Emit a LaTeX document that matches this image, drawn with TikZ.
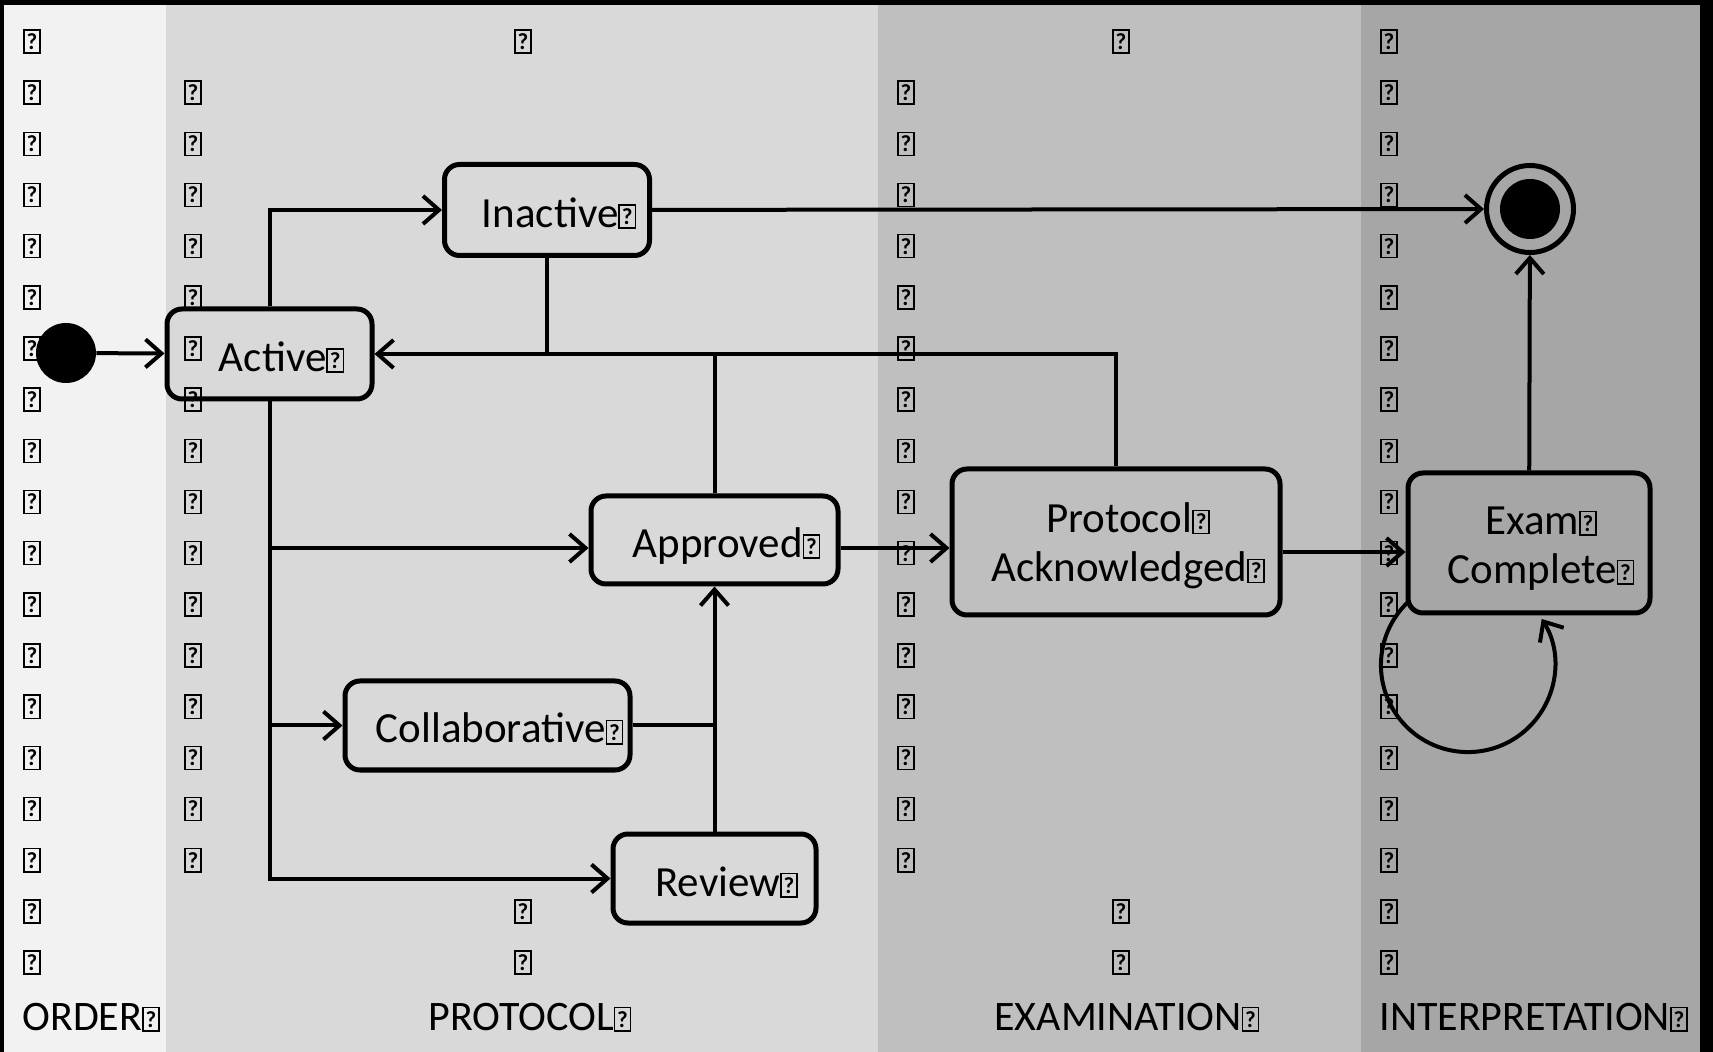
\documentclass[tikz,border=0pt]{standalone}
\usepackage{fontspec}
\setmainfont{Carlito}
\usetikzlibrary{arrows.meta}
\definecolor{ordergrey}{HTML}{F2F2F2}
\definecolor{protocolgrey}{HTML}{D9D9D9}
\definecolor{examgrey}{HTML}{BFBFBF}
\definecolor{interpgrey}{HTML}{A6A6A6}
\newcommand\qbox{{\setlength\fboxsep{0pt}\setlength\fboxrule{0.75pt}%
  \fbox{\vbox to 10.8pt{\vss\hbox to 7.3pt{\hss\fontsize{11.5}{11.5}\selectfont\bfseries ?\hss}\vss}}}}
\newcommand\pad{\hspace*{12pt}\rule{0pt}{19pt}}
\tikzstyle{state2-node}=[draw,rounded corners=7.5pt,line width=2.5pt,inner sep=0pt,align=center,font=\fontsize{21.5}{24.5}\selectfont]
\tikzstyle{state-node}=[state2-node,text height=20pt,text depth=2.5pt]
\tikzstyle{start-node}=[fill=black,circle,inner sep=0pt,minimum size=30pt]
\tikzstyle{end-node}=[draw,circle,line width=2.5pt,inner sep=0pt,minimum size=43.5pt]
\tikzstyle{end-dot}=[fill=black,circle,inner sep=0pt,minimum size=30pt]
\tikzstyle{qmark-node}=[inner sep=0pt]
\tikzstyle{lane-label}=[anchor=base west,inner sep=0pt,font=\fontsize{21}{21}\selectfont]
\tikzstyle{trans}=[line width=2pt,-{Straight Barb[length=8pt,width=14pt]}]
\tikzstyle{link}=[line width=2pt]

\begin{document}
\begin{tikzpicture}[x=0.5pt,y=-0.5pt]
    \useasboundingbox (0,0) rectangle (1713,1052);
    \begin{scope}
        \fill[black] (0,0) rectangle (1713,1052);
        \fill[ordergrey] (4,5) rectangle (166,1052);
        \fill[protocolgrey] (166,5) rectangle (878,1052);
        \fill[examgrey] (878,5) rectangle (1361,1052);
        \fill[interpgrey] (1361,5) rectangle (1700,1052);

        \foreach \k in {0,...,18}
            \node[qmark-node] (qo\k) at (32,41.5+51.17*\k) {\qbox};
        \foreach \k in {1,...,16}
            \node[qmark-node] (qp\k) at (193,41.5+51.17*\k) {\qbox};
        \foreach \k in {0,17,18}
            \node[qmark-node] (qq\k) at (523,41.5+51.17*\k) {\qbox};
        \foreach \k in {1,...,16}
            \node[qmark-node] (qe\k) at (906,41.5+51.17*\k) {\qbox};
        \foreach \k in {0,17,18}
            \node[qmark-node] (qf\k) at (1121,41.5+51.17*\k) {\qbox};
        \foreach \k in {0,...,18}
            \node[qmark-node] (qi\k) at (1389,41.5+51.17*\k) {\qbox};

        \node[lane-label] (lorder) at (22,1030) {ORDER\qbox};
        \node[lane-label] (lprotocol) at (428,1030) {PROTOCOL\qbox};
        \node[lane-label] (lexam) at (994,1030) {EXAMINATION\qbox};
        \node[lane-label] (linterp) at (1379,1030) {INTERPRETATION\qbox};
    \end{scope}

    \begin{scope}
        \node[start-node] at (66,353) (init) {};
        \node[state-node,minimum width=102.5pt,minimum height=45pt] at (269.5,354) (active) {\pad Active\qbox};
        \node[state-node,minimum width=102.5pt,minimum height=45.5pt] at (547,210) (inactive) {\pad Inactive\qbox};
        \node[state-node,minimum width=123.5pt,minimum height=44pt] at (714.5,540) (approved) {\pad Approved\qbox};
        \node[state-node,minimum width=142.5pt,minimum height=44.5pt] at (487.5,725.5) (collab) {\pad Collaborative\qbox};
        \node[state-node,minimum width=101.5pt,minimum height=44.5pt] at (714.5,878.5) (review) {\pad Review\qbox};
        \node[state2-node,minimum width=164pt,minimum height=73pt] at (1116,542) (protack) {\pad Protocol\qbox\\\pad Acknowledged\qbox};
        \node[state2-node,minimum width=121pt,minimum height=70pt] at (1529,543) (examc) {\pad Exam\qbox\\\pad Complete\qbox};
        \node[end-node] at (1530,209) (final) {};
        \node[end-dot] at (final.center) (finaldot) {};

        \draw[trans] (init) -- (active);
        \draw[trans] (active.north) |- (inactive.west);
        \draw[trans] (inactive) -- (final);
        \draw[link] (inactive.south) -- (inactive.south |- active.east);
        \draw[link] (approved.north) -- (approved.north |- active.east);
        \draw[trans] (protack.north) |- (active.east);
        \draw[trans] (active.south) |- (review.west);
        \draw[trans] ([yshift=-4pt]approved.west -| active.south) -- ([yshift=-4pt]approved.west);
        \draw[trans] (active.south |- collab.west) -- (collab.west);
        \draw[link] (collab.east) -- (collab.east -| review.north);
        \draw[trans] (review.north) -- (approved.south);
        \draw[trans] ([yshift=-4pt]approved.east) -- ([yshift=-4pt]approved.east -| protack.west);
        \draw[trans] ([yshift=-5pt]protack.east) -- ([yshift=-5pt]protack.east -| examc.west);
        \draw[trans] (examc) -- (final);
        \draw[trans] ([shift={(2,-13)}]examc.south west) arc[start angle=134,end angle=392,radius=43.5pt];
    \end{scope}
\end{tikzpicture}
\end{document}
